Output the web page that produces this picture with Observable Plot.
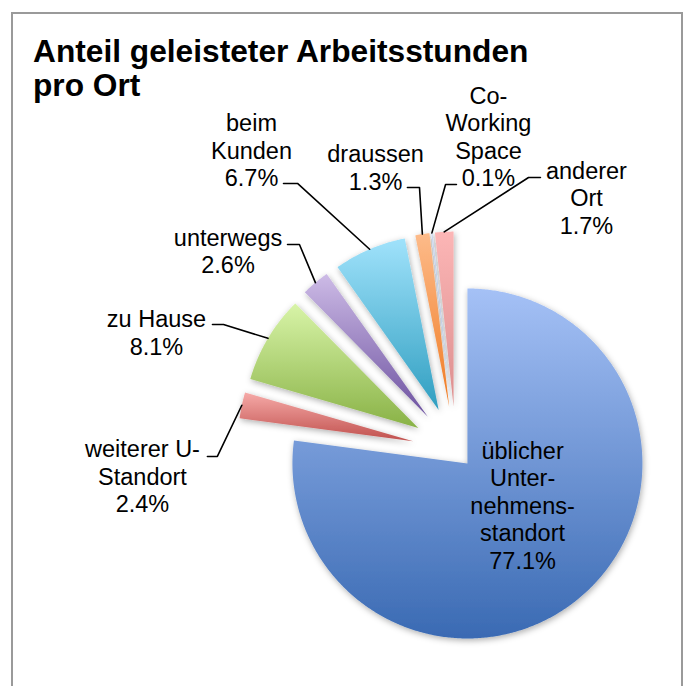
<!DOCTYPE html>
<html>
<head>
<meta charset="utf-8">
<script src="https://cdn.jsdelivr.net/npm/d3@7"></script>
<script src="https://cdn.jsdelivr.net/npm/@observablehq/plot@0.6"></script>
<style>
  html, body { margin: 0; padding: 0; background: #fff; }
  #wrap { position: relative; width: 683px; height: 686px; overflow: hidden; background: #fff; }
  #frame { position: absolute; left: 11px; top: 12px; width: 672px; height: 700px; box-sizing: border-box; border: 2px solid #9a9a9a; }
  #title { position: absolute; left: 33px; top: 34px; font: bold 31.7px "Liberation Sans", Arial, sans-serif; line-height: 34px; color: #000; white-space: nowrap; }
  #chart { position: absolute; left: 0; top: 0; }
</style>
</head>
<body>
<div id="wrap">
  <div id="frame"></div>
  <div id="chart"></div>
  <div id="title">Anteil geleisteter Arbeitsstunden<br>pro Ort</div>
</div>
<script>
// ---- data ----
const categories = ["üblicher Unternehmensstandort", "weiterer U-Standort", "zu Hause", "unterwegs", "beim Kunden", "draussen", "Co-Working Space", "anderer Ort"];
const shares = [77.1, 2.4, 8.1, 2.6, 6.7, 1.3, 0.1, 1.7];
const labelText = [
  "üblicher\nUnter-\nnehmens-\nstandort\n77.1%",
  "weiterer U-\nStandort\n2.4%",
  "zu Hause\n8.1%",
  "unterwegs\n2.6%",
  "beim\nKunden\n6.7%",
  "draussen\n1.3%",
  "Co-\nWorking\nSpace\n0.1%",
  "anderer\nOrt\n1.7%"
];

// ---- styles / layout (chart units: pie radius = 1, origin = pie centre, y downward) ----
const explode = [0.10, 0.25, 0.25, 0.25, 0.25, 0.25, 0.25, 0.25];
const gradTop    = ["#a5c1f6", "#f6aaa8", "#d8f4a8", "#cdbbe6", "#a0e2fb", "#fdbb8a", "#c8d6f2", "#fcb6b6"];
const gradBottom = ["#3a6ab3", "#c0504d", "#89b246", "#6d52a0", "#2f9ec0", "#ef7a22", "#8aa6d9", "#dc8e8e"];
const labelX = [0.381, -1.791, -1.711, -1.302, -1.168, -0.459, 0.186, 0.746];
const labelY = [0.313, 0.147, -0.676, -1.142, -1.716, -1.619, -1.796, -1.445];
const hasLeader = [false, true, true, true, true, true, true, true];
const elbowX = [0, -1.363, -1.328, -0.894, -0.905, -0.208, -0.059, 0.415];
const elbowY = [0, 0.035, -0.719, -1.176, -1.525, -1.502, -1.519, -1.559];
const endX   = [0, -1.420, -1.391, -0.962, -0.985, -0.277, 0.003, 0.483];

const W = 683, H = 686, RPX = 175, CX = 455.4, CY = 449.8;

// ---- geometry from data ----
const total = d3.sum(shares);
let acc = 0;
const slices = shares.map((v, i) => {
  const a0 = acc / total * 2 * Math.PI;
  acc += v;
  const a1 = acc / total * 2 * Math.PI;
  const mid = (a0 + a1) / 2;
  const ox = explode[i] * Math.sin(mid), oy = -explode[i] * Math.cos(mid);
  return {i, name: categories[i], a0, a1, mid, ox, oy};
});

const polyPts = [];
for (const s of slices) {
  polyPts.push({i: s.i, x: s.ox, y: s.oy});
  const n = Math.max(2, Math.ceil((s.a1 - s.a0) / (Math.PI / 360)));
  for (let k = 0; k <= n; k++) {
    const a = s.a0 + (s.a1 - s.a0) * k / n;
    polyPts.push({i: s.i, x: s.ox + Math.sin(a), y: s.oy - Math.cos(a)});
  }
  polyPts.push({i: s.i, x: s.ox, y: s.oy});
}

const leaderPts = [];
for (const s of slices) {
  if (!hasLeader[s.i]) continue;
  leaderPts.push({i: s.i, x: s.ox + Math.sin(s.mid), y: s.oy - Math.cos(s.mid)});
  leaderPts.push({i: s.i, x: elbowX[s.i], y: elbowY[s.i]});
  leaderPts.push({i: s.i, x: endX[s.i], y: elbowY[s.i]});
}

const labels = slices.map(s => ({i: s.i, x: labelX[s.i], y: labelY[s.i], text: labelText[s.i]}));

const svg = Plot.plot({
  width: W, height: H,
  margin: 0,
  x: {domain: [-CX / RPX, (W - CX) / RPX], axis: null},
  y: {domain: [(H - CY) / RPX, -CY / RPX], axis: null},
  color: {type: "identity"},
  style: {background: "transparent", overflow: "visible"},
  marks: [
    Plot.line(polyPts, {x: "x", y: "y", z: "i", fill: d => `url(#grad${d.i})`, stroke: "none", curve: "linear"}),
    Plot.line(leaderPts, {x: "x", y: "y", z: "i", stroke: "#000", strokeWidth: 1.6}),
    Plot.text(labels, {x: "x", y: "y", text: "text", fontSize: 23.5, lineHeight: 1.17, fill: "#000",
      fontFamily: "'Liberation Sans', Arial, sans-serif", textAnchor: "middle"})
  ]
});

const s = d3.select(svg);
const defs = s.insert("defs", ":first-child");
slices.forEach(sl => {
  const g = defs.append("linearGradient").attr("id", `grad${sl.i}`)
    .attr("x1", 0).attr("y1", 0).attr("x2", 0).attr("y2", 1);
  g.append("stop").attr("offset", "0%").attr("stop-color", gradTop[sl.i]);
  g.append("stop").attr("offset", "100%").attr("stop-color", gradBottom[sl.i]);
});
const f = defs.append("filter").attr("id", "shadow")
  .attr("x", "-20%").attr("y", "-20%").attr("width", "140%").attr("height", "140%");
f.append("feDropShadow").attr("dx", 1).attr("dy", 2).attr("stdDeviation", 3)
  .attr("flood-color", "#000").attr("flood-opacity", 0.32);
s.select('g[aria-label="line"]').attr("filter", "url(#shadow)");

document.getElementById("chart").appendChild(svg);
</script>
</body>
</html>
